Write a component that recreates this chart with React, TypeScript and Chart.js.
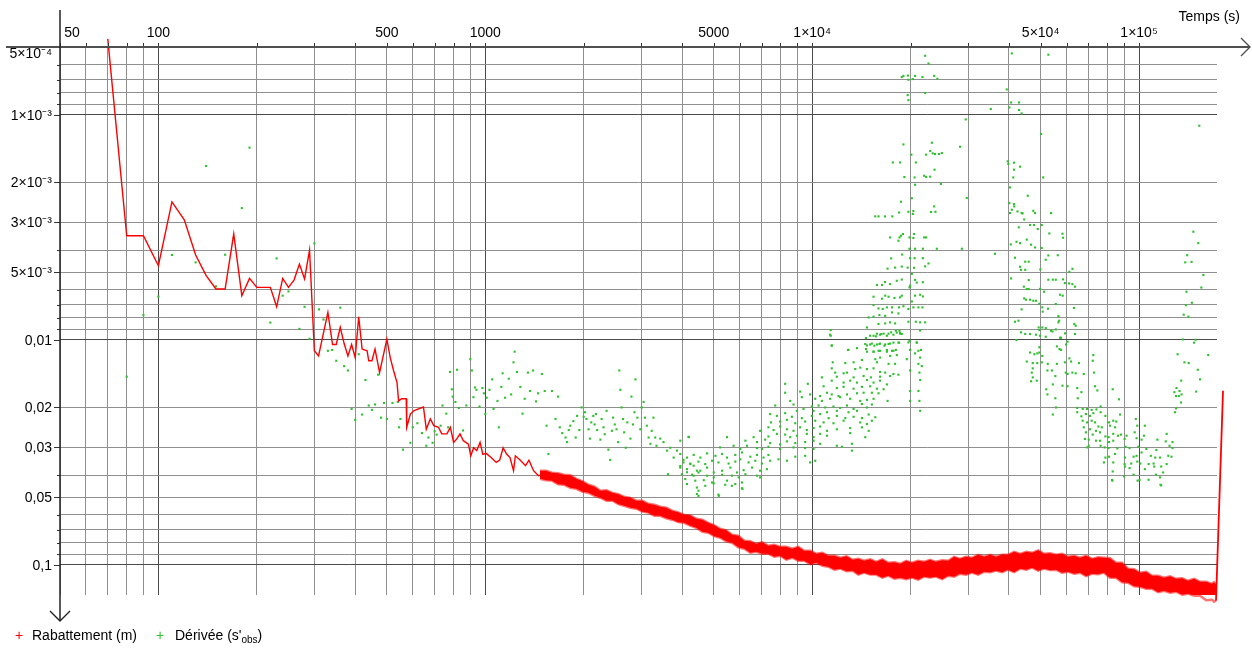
import React, { useEffect, useRef } from 'react';
import { Chart, registerables } from 'chart.js';

Chart.register(...registerables);

const FONT = "'Liberation Sans', Arial, sans-serif";
const RED = '#ff0000';
const GREEN = '#2ec02e';

// Axis ranges
const xMin = 50;
const xMax = 173200;
const yMin = 5e-4;
const yMax = 0.1363;

// Grid lines (log scale)
const xGridValues = [50, 60, 70, 80, 90, 100, 200, 300, 400, 500, 600, 700, 800, 900, 1000, 2000, 3000, 4000, 5000, 6000, 7000, 8000, 9000, 10000, 20000, 30000, 40000, 50000, 60000, 70000, 80000, 90000, 100000];
const yGridValues = [5e-4, 6e-4, 7e-4, 8e-4, 9e-4, 1e-3, 2e-3, 3e-3, 4e-3, 5e-3, 6e-3, 7e-3, 8e-3, 9e-3, 0.01, 0.02, 0.03, 0.04, 0.05, 0.06, 0.07, 0.08, 0.09, 0.1];

// Tick labels
const xTickLabels: [number, string][] = [[50, '50'], [100, '100'], [500, '500'], [1000, '1000'], [5000, '5000'], [10000, '1×10⁴'], [50000, '5×10⁴'], [100000, '1×10⁵']];
const yTickLabels: [number, string][] = [[5e-4, '5×10⁻⁴'], [1e-3, '1×10⁻³'], [2e-3, '2×10⁻³'], [3e-3, '3×10⁻³'], [5e-3, '5×10⁻³'], [0.01, '0,01'], [0.02, '0,02'], [0.03, '0,03'], [0.05, '0,05'], [0.1, '0,1']];

// Rabattement (m): early readable line [t (s), s (m)]
const rabattementEarly: [number, number][] = [
  [70, 4.6e-4], [80, 3.45e-3], [90, 3.45e-3], [100, 4.69e-3], [110, 2.44e-3], [120, 2.93e-3], [130, 4.2e-3], [140, 5.19e-3], [150, 5.95e-3], [160, 5.95e-3],
  [170, 3.39e-3], [180, 6.37e-3], [190, 5.34e-3], [200, 5.85e-3], [220, 5.85e-3], [230, 7.14e-3], [240, 5.34e-3], [250, 5.85e-3], [260, 5.43e-3], [270, 4.61e-3],
  [280, 5.37e-3], [290, 4.0e-3], [300, 0.0112], [309, 0.0118], [330, 7.56e-3], [341, 0.0105], [350, 0.0105], [360, 8.81e-3], [370, 0.0104], [380, 0.0118],
  [390, 0.0105], [400, 0.012], [410, 7.9e-3], [420, 0.011], [435, 0.0112], [440, 0.0124], [450, 0.0124], [460, 0.011], [475, 0.014], [500, 9.93e-3],
  [512, 0.012], [524, 0.0137], [537, 0.0155], [543, 0.0187], [555, 0.0183], [573, 0.0183], [575, 0.0245], [590, 0.0214], [604, 0.0207], [625, 0.0203],
  [647, 0.0199], [660, 0.025], [679, 0.0225], [696, 0.0241], [719, 0.0245], [736, 0.0262], [763, 0.0262], [782, 0.0245], [800, 0.0286], [818, 0.0276],
  [837, 0.0262], [857, 0.0281], [888, 0.0291], [903, 0.0328], [921, 0.0302], [942, 0.0311], [964, 0.0286], [983, 0.0323], [1006, 0.032], [1042, 0.0334],
  [1080, 0.0351], [1107, 0.0343], [1134, 0.0302], [1162, 0.0322], [1190, 0.0334], [1220, 0.0382], [1236, 0.0328], [1280, 0.0343], [1328, 0.0363], [1360, 0.0343],
  [1405, 0.0382], [1455, 0.0402], [1470, 0.040],
];

// Rabattement (m): noisy band, upper and lower edges of the trace
const bandTimes = [
  1470, 1535, 1600, 1670, 1740, 1820, 1900, 1985, 2070, 2160,
  2250, 2350, 2450, 2555, 2660, 2780, 2900, 3025, 3150, 3290,
  3430, 3580, 3730, 3895, 4060, 4240, 4420, 4615, 4810, 5020,
  5230, 5460, 5690, 5945, 6200, 6470, 6740, 7040, 7340, 7660,
  7980, 8335, 8690, 9070, 9450, 9875, 10300, 10750, 11200, 11700,
  12200, 12750, 13300, 13850, 14400, 15050, 15700, 16400, 17100, 17850,
  18600, 19400, 20200, 21100, 22000, 22950, 23900, 25000, 26100, 27200,
  28300, 29550, 30800, 32200, 33600, 35050, 36500, 38100, 39700, 41500,
  43300, 45200, 47100, 49150, 51200, 53450, 55700, 58150, 60600, 63300,
  66000, 68900, 71800, 74950, 78100, 81550, 85000, 88750, 92500, 96600,
  100700, 105150, 109600, 114400, 119200, 124500, 129800, 135500, 141200, 147450,
  153700, 160450, 167200, 169600, 172000,
];
const bandUpper = [
  0.0382, 0.0382, 0.0390, 0.0392, 0.0398, 0.0400, 0.0415, 0.0426, 0.0441, 0.0450,
  0.0469, 0.0467, 0.0479, 0.0486, 0.0499, 0.0504, 0.0519, 0.0519, 0.0536, 0.0541,
  0.0552, 0.0558, 0.0575, 0.0585, 0.0600, 0.0603, 0.0625, 0.0631, 0.0651, 0.0668,
  0.0692, 0.0703, 0.0736, 0.0743, 0.0782, 0.0786, 0.0807, 0.0794, 0.0823, 0.0815,
  0.0832, 0.0832, 0.0849, 0.0832, 0.0867, 0.0867, 0.0894, 0.0885, 0.0912, 0.0912,
  0.0931, 0.0917, 0.0950, 0.0940, 0.0960, 0.0945, 0.0970, 0.0946, 0.0980, 0.0975,
  0.0990, 0.0960, 0.0980, 0.0960, 0.0970, 0.0950, 0.0970, 0.0955, 0.0960, 0.0922,
  0.0941, 0.0922, 0.0931, 0.0903, 0.0921, 0.0902, 0.0921, 0.0903, 0.0903, 0.0876,
  0.0894, 0.0876, 0.0885, 0.0863, 0.0894, 0.0889, 0.0903, 0.0893, 0.0921, 0.0912,
  0.0931, 0.0912, 0.0941, 0.0926, 0.0931, 0.0936, 0.0980, 0.0980, 0.1041, 0.1047,
  0.1085, 0.1074, 0.1119, 0.1119, 0.1142, 0.1125, 0.1154, 0.1148, 0.1178, 0.1154,
  0.119, 0.1190, 0.1215, 0.1196, 0.1227,
];
const bandLower = [
  0.0415, 0.0421, 0.0423, 0.0439, 0.0441, 0.0455, 0.0460, 0.0474, 0.0479, 0.0494,
  0.0504, 0.0520, 0.0519, 0.0538, 0.0547, 0.0558, 0.0564, 0.0581, 0.0587, 0.0606,
  0.0606, 0.0622, 0.0631, 0.0647, 0.0651, 0.0671, 0.0685, 0.0714, 0.0721, 0.0747,
  0.0759, 0.0787, 0.0799, 0.0837, 0.0849, 0.0885, 0.0876, 0.0894, 0.0894, 0.0922,
  0.0912, 0.0950, 0.0931, 0.0960, 0.0960, 0.0995, 0.0980, 0.1011, 0.1021, 0.1052,
  0.1041, 0.1068, 0.1063, 0.1108, 0.1085, 0.1107, 0.1107, 0.1142, 0.1119, 0.1154,
  0.1142, 0.1160, 0.1142, 0.1166, 0.1130, 0.1141, 0.1130, 0.1160, 0.1119, 0.1131,
  0.1096, 0.1108, 0.1085, 0.1108, 0.1074, 0.1080, 0.1063, 0.1080, 0.1052, 0.1080,
  0.1041, 0.1052, 0.1031, 0.1063, 0.1041, 0.1057, 0.1052, 0.1085, 0.1074, 0.1096,
  0.1085, 0.1125, 0.1096, 0.1102, 0.1085, 0.1143, 0.1142, 0.1196, 0.1202, 0.1247,
  0.1253, 0.1279, 0.1279, 0.1326, 0.1305, 0.1332, 0.1318, 0.1359, 0.1345, 0.1373,
  0.1373, 0.1438, 0.1430, 0.1460, 0.1445,
];

// Rabattement (m): final recovery spike
const rabattementEnd: [number, number][] = [[172000, 0.1445], [180700, 0.01685], [182000, 0.0229], [182600, 0.01773], [183900, 0.0241], [184500, 0.01867], [185800, 0.0259]];

// Dérivée (s'obs) [t (s), value]
const derivEarly: [number, number][] = [
  [190, 1.40e-3], [140, 1.69e-3], [180, 2.6e-3], [170, 3.53e-3], [110, 4.2e-3], [130, 4.53e-3], [160, 4.19e-3], [230, 4.35e-3], [300, 3.73e-3], [150, 5.79e-3],
  [240, 6.37e-3], [250, 6.1e-3], [100, 6.43e-3], [280, 7.14e-3], [90, 7.77e-3], [220, 8.39e-3], [270, 8.95e-3], [310, 7.33e-3], [320, 8.13e-3], [360, 7.2e-3],
  [290, 9.9e-3], [80, 0.0146],
  [330, 0.0112], [340, 0.0111], [350, 0.0124], [370, 0.0131], [380, 0.0137], [410, 0.0116], [390, 0.0203], [400, 0.0227], [430, 0.0151], [420, 0.0215],
  [440, 0.0196], [450, 0.0205], [460, 0.0194], [470, 0.0143], [480, 0.0222], [490, 0.0191], [500, 0.0225], [520, 0.0191], [540, 0.0189], [550, 0.0225],
  [545, 0.0245], [560, 0.0308], [590, 0.0287], [600, 0.0245], [620, 0.0235], [640, 0.026], [660, 0.0296], [670, 0.0272], [690, 0.0287], [700, 0.0255],
  [710, 0.0264], [730, 0.0241], [740, 0.0196], [760, 0.0213], [770, 0.0245], [780, 0.0139], [790, 0.0166], [795, 0.0179], [810, 0.0189], [820, 0.0136],
  [830, 0.0201], [855, 0.0253], [875, 0.0196], [900, 0.0122], [910, 0.0137], [920, 0.018], [930, 0.0163], [940, 0.0167], [960, 0.0198], [980, 0.0164],
  [990, 0.0173], [1000, 0.0214], [1010, 0.0181], [1030, 0.0167], [1050, 0.015], [1060, 0.0203], [1090, 0.0187], [1100, 0.0245], [1120, 0.0162], [1130, 0.0141],
  [1150, 0.0181], [1180, 0.0149], [1200, 0.0175], [1220, 0.0126], [1230, 0.0113], [1250, 0.0139], [1280, 0.0162], [1300, 0.0213], [1320, 0.0183], [1350, 0.014],
  [1370, 0.0169], [1400, 0.0137], [1430, 0.0188], [1450, 0.0173], [1490, 0.0142], [1520, 0.0169], [1540, 0.0241], [1560, 0.0322],
];

const derivPlateau: [number, number][] = [
  [1600, 0.0169], [1640, 0.0225], [1670, 0.0179], [1690, 0.0245], [1720, 0.026], [1760, 0.0272], [1780, 0.0285], [1800, 0.0252], [1820, 0.0241], [1860, 0.023],
  [1890, 0.0272], [1910, 0.0218], [1940, 0.0252], [1970, 0.02], [2000, 0.022], [2020, 0.021], [2040, 0.0225], [2070, 0.025], [2090, 0.0275], [2110, 0.0233],
  [2140, 0.0218], [2160, 0.0238], [2180, 0.0214], [2200, 0.0252], [2250, 0.0278], [2270, 0.0225], [2300, 0.0245], [2320, 0.0263], [2350, 0.0207], [2380, 0.0308],
  [2410, 0.0342], [2440, 0.0254], [2460, 0.0222], [2490, 0.0238], [2520, 0.025], [2550, 0.0285], [2570, 0.0137], [2590, 0.0167], [2610, 0.02], [2640, 0.0225],
  [2660, 0.0258], [2690, 0.0302], [2720, 0.0233], [2780, 0.0275], [2800, 0.0179], [2830, 0.0238], [2860, 0.021], [2880, 0.015], [2920, 0.0222], [2980, 0.025],
  [3010, 0.02], [3050, 0.0189], [3080, 0.0222], [3120, 0.0241], [3160, 0.0272], [3200, 0.029], [3230, 0.0254], [3270, 0.0222], [3310, 0.0272], [3340, 0.0296],
  [3430, 0.0275], [3510, 0.0285], [3600, 0.0311], [3680, 0.0302], [3770, 0.0334], [3860, 0.0311], [3950, 0.0364], [4040, 0.0342], [4140, 0.0388], [4190, 0.027],
  [4240, 0.0355], [4340, 0.0402], [4440, 0.0382], [4490, 0.0469],
];

const derivTrough: [number, number][] = [
  [11350, 0.0095], [15410, 0.0096], [15780, 0.0094], [16140, 0.0095], [16540, 0.0094], [17130, 0.0094], [17730, 0.0095], [18150, 0.0093], [18580, 0.0094], [21400, 0.0091],
  [11480, 0.0106], [14710, 0.0106], [15230, 0.0104], [15780, 0.0105], [16140, 0.0104], [16730, 0.0105], [17320, 0.0104], [18360, 0.0103], [19850, 0.0101], [20890, 0.0103],
  [12870, 0.0111], [14610, 0.0110], [15410, 0.0113], [16140, 0.0112], [16930, 0.0111], [17730, 0.0112], [19940, 0.0111], [21140, 0.0112],
  [15600, 0.0122], [16140, 0.0120], [17320, 0.0118], [18150, 0.0117], [15780, 0.0126], [17130, 0.0128], [17940, 0.0128], [19480, 0.0122], [21400, 0.0120], [12630, 0.0127],
  [13390, 0.0126], [14200, 0.0123], [11560, 0.0126], [21140, 0.0128], [21650, 0.0131],
  [11480, 0.0134], [11760, 0.0140], [12480, 0.0141], [12780, 0.0140], [13550, 0.0135], [14030, 0.0133], [14710, 0.0135], [15410, 0.0134], [16140, 0.0139], [16730, 0.0140],
  [17730, 0.0142], [18360, 0.0143], [19940, 0.0137], [21290, 0.0140], [11900, 0.0146], [13390, 0.0147], [14370, 0.0145], [15120, 0.0147], [16140, 0.0146], [17320, 0.0145],
  [10710, 0.0147], [11480, 0.0152], [12480, 0.0155], [13070, 0.0152], [13710, 0.0155], [14710, 0.0151], [15410, 0.0155], [16140, 0.0152], [16930, 0.0158], [21400, 0.0151],
  [8270, 0.0157], [9700, 0.0157], [10840, 0.0161], [11900, 0.0164], [12480, 0.0162], [13390, 0.0165], [14200, 0.0162], [15050, 0.0161], [15780, 0.0165], [16540, 0.0166],
  [8270, 0.0172], [9190, 0.0170], [9860, 0.0175], [10580, 0.0178], [11100, 0.0172], [11480, 0.0175], [12040, 0.0178], [12780, 0.0175], [13710, 0.0173], [14370, 0.0172],
  [15230, 0.0172], [15960, 0.0173], [19940, 0.0169], [21140, 0.0169], [8570, 0.0187], [9300, 0.0180], [10220, 0.0183], [10710, 0.0187], [11350, 0.0183], [12180, 0.0180],
  [13070, 0.0183], [14030, 0.0187], [14710, 0.0185], [15410, 0.0183], [17010, 0.0187], [19940, 0.0187], [21290, 0.0187],
  [7710, 0.0196], [8770, 0.0194], [9410, 0.0203], [9980, 0.0198], [10460, 0.0196], [10970, 0.0200], [11620, 0.0198], [12180, 0.0201], [12780, 0.0196], [13390, 0.0203],
  [14200, 0.0193], [14710, 0.0200], [15230, 0.0194], [21400, 0.0207], [8980, 0.0207], [10100, 0.0207], [11100, 0.0210], [11900, 0.0207], [12920, 0.0210], [13710, 0.0207],
  [7440, 0.0214], [7800, 0.0218], [8270, 0.0212], [8670, 0.0220], [9300, 0.0223], [9980, 0.0218], [10580, 0.0214], [11230, 0.0223], [11900, 0.0218], [12630, 0.0223],
  [13390, 0.0220], [14200, 0.0223], [14890, 0.0215], [15600, 0.0221], [7480, 0.0233], [7980, 0.0231], [8370, 0.0227], [8880, 0.0235], [9520, 0.0231], [10220, 0.0229],
  [10840, 0.0233], [11620, 0.0235], [12480, 0.0229], [14030, 0.0233], [14710, 0.0237], [15230, 0.0229],
  [6930, 0.0254], [7350, 0.0245], [7620, 0.0252], [7980, 0.0243], [8370, 0.0250], [8770, 0.0254], [9190, 0.0245], [9630, 0.0252], [10100, 0.0247], [10580, 0.0243],
  [11100, 0.0254], [11900, 0.0250], [13070, 0.0247], [14200, 0.0245], [14890, 0.0254], [6620, 0.0271], [7350, 0.0269], [7800, 0.0262], [8270, 0.0264], [8570, 0.0271],
  [8980, 0.0267], [9630, 0.0262], [10100, 0.0271], [10580, 0.0262], [11100, 0.0267], [13070, 0.0260], [14540, 0.0271],
  [6250, 0.0281], [6780, 0.0285], [7180, 0.0278], [7440, 0.0288], [7980, 0.0292], [8370, 0.0283], [8880, 0.0288], [9520, 0.0285], [10100, 0.0281], [10580, 0.0290],
  [11900, 0.0296], [12330, 0.0299], [13230, 0.0290], [5490, 0.0271], [4190, 0.0271], [3950, 0.0281], [5230, 0.0301], [5750, 0.0296], [6030, 0.0306], [6320, 0.0296],
  [6780, 0.0303], [7020, 0.0306], [7350, 0.0299], [7980, 0.0306], [8770, 0.0301], [9520, 0.0303], [10100, 0.0306], [13230, 0.0311],
  [3950, 0.0322], [4140, 0.0334], [4340, 0.0325], [4550, 0.0334], [4770, 0.0320], [5060, 0.0328], [5300, 0.0322], [5490, 0.0334], [5820, 0.0325], [6100, 0.0317],
  [6470, 0.0331], [6780, 0.0325], [7100, 0.0334], [7350, 0.0325], [7890, 0.0340], [8370, 0.0345], [8880, 0.0331], [9520, 0.0328], [9860, 0.0351], [10220, 0.0345],
  [4040, 0.0351], [4240, 0.0357], [4490, 0.0348], [4710, 0.0357], [4940, 0.0345], [5170, 0.0351], [5550, 0.0355], [5820, 0.0348], [6030, 0.0340], [6390, 0.0351],
  [6700, 0.0345], [7020, 0.0355], [7440, 0.0345],
  [3950, 0.0370], [4140, 0.0376], [4340, 0.0363], [4550, 0.0382], [4770, 0.0370], [5000, 0.0389], [5300, 0.0382], [5620, 0.0370], [5890, 0.0389], [6170, 0.0380],
  [6550, 0.0370], [6930, 0.0382], [7270, 0.0376], [3995, 0.0396], [4290, 0.0398], [4490, 0.0389], [4770, 0.0402], [5000, 0.0409], [5300, 0.0398], [5680, 0.0402],
  [5960, 0.0409], [6250, 0.0396], [6780, 0.0402], [4090, 0.0416], [4390, 0.0423], [4660, 0.0421], [4940, 0.0431], [5490, 0.0423], [5820, 0.0438], [6100, 0.0431],
  [6930, 0.0409], [4140, 0.0438], [4440, 0.0454], [4710, 0.0446], [5000, 0.0435], [5420, 0.0441], [5680, 0.0446], [6100, 0.0457], [4440, 0.0485], [5170, 0.0488],
  [3620, 0.0396], [4490, 0.0494], [5180, 0.0494], [6120, 0.046],
];

const derivFirstPeak: [number, number][] = [
  [22170, 5.47e-4], [22700, 5.92e-4],
  [18800, 6.8e-4], [19020, 6.72e-4], [19630, 6.7e-4], [19700, 6.99e-4], [20320, 6.94e-4], [20650, 6.72e-4], [21750, 6.8e-4], [23620, 6.72e-4], [24160, 6.92e-4],
  [22170, 8.01e-4], [19600, 8.18e-4], [19700, 8.61e-4],
  [29500, 1.049e-3], [19020, 1.355e-3], [23240, 1.332e-3], [28350, 1.388e-3], [20120, 1.505e-3],
  [22320, 1.505e-3], [22960, 1.45e-3], [23380, 1.485e-3], [23760, 1.495e-3], [24450, 1.495e-3], [24930, 1.48e-3],
  [17650, 1.63e-3], [18580, 1.63e-3], [20760, 1.63e-3], [23680, 1.755e-3], [19150, 1.892e-3], [20580, 1.9e-3], [22010, 1.867e-3], [22320, 1.89e-3], [22960, 1.885e-3],
  [24760, 2.032e-3], [20650, 2.047e-3], [29720, 2.345e-3], [20180, 2.35e-3], [18690, 2.436e-3], [23620, 2.555e-3], [23120, 2.706e-3], [23830, 2.7e-3],
  [15600, 2.83e-3], [15960, 2.83e-3], [16700, 2.83e-3], [17590, 2.83e-3], [18450, 2.72e-3], [19700, 2.7e-3], [20400, 2.68e-3], [20320, 2.76e-3],
  [17320, 3.51e-3], [18500, 3.51e-3], [18690, 3.45e-3], [18960, 3.39e-3], [18360, 3.63e-3], [19850, 3.51e-3], [20400, 3.53e-3], [20500, 3.39e-3], [22010, 3.51e-3], [22320, 3.51e-3],
  [19850, 3.94e-3], [20650, 3.94e-3], [21810, 3.94e-3], [24060, 3.94e-3], [28710, 3.94e-3], [18850, 4.18e-3], [17450, 4.35e-3], [19940, 4.34e-3], [20580, 4.34e-3], [21810, 4.34e-3],
  [22700, 4.58e-3], [17010, 4.83e-3], [17940, 4.78e-3], [18800, 4.73e-3], [19600, 4.78e-3], [20500, 4.79e-3], [22170, 4.72e-3],
  [15780, 5.71e-3], [16360, 5.71e-3], [16700, 5.54e-3], [17320, 5.66e-3], [18150, 5.47e-3], [18800, 5.4e-3], [20180, 5.1e-3], [19940, 5.75e-3], [20650, 5.42e-3], [20890, 5.57e-3],
  [21810, 5.55e-3], [19850, 5.85e-3],
  [15410, 6.44e-3], [16360, 6.57e-3], [16730, 6.37e-3], [17130, 6.44e-3], [17860, 6.52e-3], [18800, 6.37e-3], [18580, 6.48e-3], [20180, 6.76e-3], [20650, 6.37e-3], [21400, 6.31e-3],
  [21810, 6.42e-3],
  [15410, 7.01e-3], [15960, 7.26e-3], [16440, 7.3e-3], [16930, 7.18e-3], [17550, 7.18e-3], [18450, 7.18e-3], [19020, 7.1e-3], [19700, 7.3e-3], [20400, 7.18e-3], [21140, 7.18e-3],
  [21750, 7.18e-3],
  [14890, 7.96e-3], [15410, 7.9e-3], [16060, 7.77e-3], [16730, 7.83e-3], [17550, 7.56e-3], [18360, 7.64e-3],
  [19700, 8.32e-3], [20760, 8.32e-3], [21400, 8.37e-3], [22170, 8.37e-3],
  [14710, 8.82e-3], [15960, 8.51e-3], [16730, 8.46e-3], [17320, 8.37e-3], [17940, 8.46e-3], [18500, 9.12e-3], [18800, 9.43e-3],
  [11400, 9.06e-3], [11400, 9.6e-3],
  [14610, 9.83e-3], [15050, 9.6e-3], [15690, 9.66e-3], [16270, 9.43e-3], [16930, 9.6e-3], [17450, 9.27e-3], [18030, 9.12e-3], [18580, 9.31e-3],
  [19700, 0.01028], [20890, 0.01028], [11480, 0.01063], [12920, 0.0111], [13710, 0.0109],
  [14540, 0.01045], [15050, 0.0105], [15500, 0.01063], [16060, 0.01045], [16640, 0.01063], [17130, 0.01045], [17730, 0.0103], [18450, 0.0103],
  [19940, 0.0111], [20650, 0.0115], [21530, 0.0111],
  [14710, 0.0113], [15410, 0.0113], [15960, 0.0112], [16930, 0.0113], [17550, 0.0112], [18030, 0.0111],
];

const derivSecondPeak: [number, number][] = [
  [40810, 5.34e-4], [52800, 5.41e-4], [39380, 7.72e-4], [40610, 8.82e-4], [42960, 8.82e-4], [35200, 9.43e-4], [40120, 9.28e-4], [42960, 9.53e-4], [43720, 9.87e-4], [152900, 1.119e-3],
  [50150, 1.218e-3],
  [39660, 1.611e-3], [39830, 1.654e-3], [41440, 1.634e-3], [41440, 1.755e-3], [43270, 1.701e-3], [41240, 1.9e-3], [50920, 1.9e-3], [40320, 2.104e-3], [45670, 2.291e-3],
  [40120, 2.469e-3], [41440, 2.495e-3], [41530, 2.556e-3], [40810, 2.644e-3], [40320, 2.735e-3], [42480, 2.69e-3], [43720, 2.735e-3], [44040, 2.745e-3], [47490, 2.673e-3], [48060, 2.735e-3],
  [53820, 2.735e-3], [44540, 2.92e-3],
  [46420, 3.092e-3], [47730, 3.092e-3], [50400, 3.092e-3], [49000, 3.22e-3], [42870, 3.165e-3], [53170, 3.37e-3], [58330, 3.38e-3], [58580, 3.52e-3], [146600, 3.311e-3],
  [40520, 3.77e-3], [42180, 3.67e-3], [43260, 3.72e-3], [45350, 3.59e-3], [46750, 3.78e-3], [48100, 3.89e-3], [50400, 3.91e-3], [151800, 3.72e-3],
  [36240, 4.15e-3], [41730, 4.32e-3], [44860, 4.5e-3], [45970, 4.5e-3], [51830, 4.41e-3], [52790, 4.22e-3], [56420, 4.21e-3], [140400, 4.21e-3], [138500, 4.53e-3], [144800, 4.51e-3],
  [43260, 4.74e-3], [43560, 4.89e-3], [44860, 4.89e-3], [49900, 4.87e-3], [61220, 4.99e-3], [62550, 4.84e-3], [157300, 5.16e-3],
  [40610, 5.34e-3], [45990, 5.43e-3], [52800, 5.41e-3], [54480, 5.41e-3], [55630, 5.41e-3], [58580, 5.39e-3], [59300, 5.6e-3], [61100, 5.62e-3], [62530, 5.66e-3], [63680, 5.81e-3],
  [44420, 5.81e-3], [45350, 5.95e-3], [45940, 5.95e-3], [49800, 5.94e-3], [51230, 6.12e-3], [57340, 6.31e-3], [58430, 6.37e-3], [139700, 6.12e-3], [155100, 5.86e-3],
  [44540, 6.55e-3], [45110, 6.64e-3], [46420, 6.64e-3], [47490, 6.71e-3], [48390, 6.71e-3], [49540, 6.92e-3], [55630, 6.94e-3], [145100, 6.85e-3], [139100, 7.02e-3],
  [43720, 7.33e-3], [50600, 7.18e-3], [52690, 7.28e-3], [50730, 7.5e-3], [137000, 7.74e-3], [141600, 7.9e-3], [56680, 7.85e-3], [63220, 7.22e-3],
  [56960, 8.23e-3], [56680, 8.37e-3], [41730, 8.32e-3], [42790, 8.23e-3], [63400, 8.51e-3], [64000, 8.67e-3],
  [49310, 8.82e-3], [50600, 8.82e-3], [51830, 8.88e-3], [49540, 9.06e-3], [53790, 9.12e-3], [54380, 9.19e-3], [55630, 9.0e-3],
  [43560, 9.27e-3], [44860, 9.43e-3], [46420, 9.43e-3], [48390, 9.5e-3], [49800, 9.6e-3], [51830, 9.7e-3], [57340, 9.8e-3], [57750, 9.8e-3], [59400, 9.37e-3], [63680, 9.43e-3],
  [42180, 0.01003], [136100, 0.00997], [149000, 0.0100], [147300, 0.0103], [60460, 0.0102], [59820, 0.0105], [49540, 0.0108], [56070, 0.0107], [57110, 0.0110], [57750, 0.0111],
  [46420, 0.0114], [47850, 0.0116], [48830, 0.0115], [49540, 0.0114], [50600, 0.0118], [61220, 0.0121], [61970, 0.0125], [72480, 0.0117], [72180, 0.0124], [131200, 0.0116],
  [137700, 0.0126], [141900, 0.0127], [162800, 0.0117],
  [45350, 0.0125], [47300, 0.0127], [48830, 0.0127], [50400, 0.0126], [52580, 0.0128], [56070, 0.0128], [59300, 0.0126], [65470, 0.0127],
  [47300, 0.0134], [46980, 0.0140], [52450, 0.0137], [54140, 0.0137], [55470, 0.0145], [59700, 0.0140], [60460, 0.0142], [62530, 0.0140], [64000, 0.0141], [67750, 0.0142],
  [72840, 0.0140], [151300, 0.0136], [134600, 0.0152], [153700, 0.0150],
  [47300, 0.0147], [46750, 0.0153], [48650, 0.0152], [54480, 0.0158], [58330, 0.0160], [60460, 0.0161], [64710, 0.0164], [66640, 0.0171], [73360, 0.0161], [74560, 0.0168],
  [83070, 0.0166],
  [130200, 0.0164], [128300, 0.0171], [133000, 0.0169], [134900, 0.0175], [132400, 0.0178], [129800, 0.0178], [149600, 0.0170], [52030, 0.0166], [52450, 0.0175],
  [55470, 0.0182], [64970, 0.0182], [86790, 0.0184], [134400, 0.0190], [55750, 0.0200],
  [64710, 0.0201], [67230, 0.0203], [69290, 0.0203], [71640, 0.0205], [74090, 0.0204], [76300, 0.0198], [129800, 0.0202], [128900, 0.0210], [54480, 0.0215],
  [64710, 0.0210], [66640, 0.0219], [68790, 0.0214], [70830, 0.0218], [72480, 0.0212], [76300, 0.0210], [78900, 0.0218], [87480, 0.0215],
  [67230, 0.0229], [69290, 0.0233], [71640, 0.0229], [73360, 0.0233], [80970, 0.0233], [83400, 0.0229], [85200, 0.0231], [97740, 0.0225],
  [67750, 0.0245], [70830, 0.0250], [73850, 0.0254], [75120, 0.0243], [76900, 0.0245], [81530, 0.0241], [84490, 0.0245], [98770, 0.0241], [104200, 0.0241],
  [68790, 0.0258], [72180, 0.0264], [75990, 0.0258], [78900, 0.0269], [80720, 0.0271], [83400, 0.0262], [86200, 0.0267], [88030, 0.0264], [91620, 0.0267], [97000, 0.0258],
  [103500, 0.0267], [121500, 0.0262],
  [68290, 0.0276], [70180, 0.0278], [73850, 0.0281], [75990, 0.0281], [80970, 0.0285], [83400, 0.0281], [90320, 0.0276], [98280, 0.0274], [101800, 0.0278], [113800, 0.0278],
  [120700, 0.0283], [126600, 0.0285],
  [70180, 0.0296], [69480, 0.0301], [76300, 0.0296], [78470, 0.0301], [80720, 0.0303], [85850, 0.0304], [90960, 0.0299], [93570, 0.0303], [99450, 0.0299], [105300, 0.0306],
  [113000, 0.0309], [124000, 0.0296], [126600, 0.0303],
  [78900, 0.0334], [80970, 0.0331], [84490, 0.0322], [90640, 0.0334], [96290, 0.0331], [98280, 0.0328], [101800, 0.0317], [108700, 0.0328], [112100, 0.0334], [115900, 0.0334],
  [122900, 0.0328], [125700, 0.0331],
  [78090, 0.0351], [83400, 0.0351], [90320, 0.0357], [94690, 0.0355], [98770, 0.0348], [101000, 0.0355], [107000, 0.0357], [110800, 0.0355], [121500, 0.0357],
  [83070, 0.0385], [90640, 0.0366], [93570, 0.0372], [104200, 0.0376], [111300, 0.0366], [116900, 0.0366], [118500, 0.0389],
  [82710, 0.0420], [90030, 0.0405], [96290, 0.0398], [100400, 0.0420], [107000, 0.0419], [112600, 0.0398], [115900, 0.0409], [116900, 0.0444],
  [82890, 0.0423], [99000, 0.0423], [116300, 0.0441],
];

const isDecade = (v: number) => Math.abs(Math.log10(v) - Math.round(Math.log10(v))) < 1e-6;
const hasLabel = (list: [number, string][], v: number) => list.some(([k]) => Math.abs(k - v) / v < 1e-6);

const decorPlugin = {
  id: 'decor',
  afterDraw(chart: any) {
    const { ctx, chartArea, scales } = chart;
    const xs = scales.x;
    const ys = scales.y;
    const left = chartArea.left;
    const top = chartArea.top;
    ctx.save();
    // tick marks
    ctx.strokeStyle = '#333';
    ctx.lineWidth = 1;
    ctx.beginPath();
    for (const v of xGridValues) {
      const px = Math.round(xs.getPixelForValue(v)) + 0.5;
      ctx.moveTo(px, top - 4);
      ctx.lineTo(px, top);
    }
    for (const v of yGridValues) {
      const py = Math.round(ys.getPixelForValue(v)) + 0.5;
      const len = hasLabel(yTickLabels, v) ? 6 : 3;
      ctx.moveTo(left - len, py);
      ctx.lineTo(left, py);
    }
    ctx.stroke();
    // x axis (top) with arrow
    ctx.strokeStyle = '#505050';
    ctx.lineWidth = 2;
    ctx.beginPath();
    ctx.moveTo(6, top);
    ctx.lineTo(1250, top);
    ctx.stroke();
    ctx.lineWidth = 1.4;
    ctx.beginPath();
    ctx.moveTo(1241, top - 9);
    ctx.lineTo(1250, top);
    ctx.lineTo(1241, top + 9);
    ctx.stroke();
    // y axis (left) with arrow
    ctx.strokeStyle = '#222';
    ctx.lineWidth = 1.5;
    ctx.beginPath();
    ctx.moveTo(left, 10);
    ctx.lineTo(left, 621);
    ctx.stroke();
    ctx.lineWidth = 1.4;
    ctx.beginPath();
    ctx.moveTo(left - 10, 611);
    ctx.lineTo(left, 621);
    ctx.lineTo(left + 10, 611);
    ctx.stroke();
    // labels
    ctx.fillStyle = '#000';
    ctx.font = `14px ${FONT}`;
    ctx.textBaseline = 'alphabetic';
    ctx.textAlign = 'center';
    for (const [v, lab] of xTickLabels) {
      let px = xs.getPixelForValue(v);
      if (v === xMin) px += 12;
      ctx.fillText(lab, px, top - 10);
    }
    ctx.textAlign = 'right';
    for (const [v, lab] of yTickLabels) {
      const py = ys.getPixelForValue(v);
      const dy = v === yMin ? 11 : 5;
      ctx.fillText(lab, left - 8, py + dy);
    }
    ctx.fillText('Temps (s)', 1240, 21);
    ctx.restore();
  },
};

const toXY = (pairs: [number, number][]) => pairs.map(([x, y]) => ({ x, y }));

export default function App() {
  const ref = useRef<HTMLCanvasElement | null>(null);

  useEffect(() => {
    if (!ref.current) return;
    const greenSet = (label: string, pairs: [number, number][]) => ({
      label,
      data: toXY(pairs),
      showLine: false,
      pointStyle: 'rect',
      pointRadius: 1.5,
      pointBorderWidth: 0,
      pointBackgroundColor: GREEN,
      borderColor: GREEN,
      backgroundColor: GREEN,
      order: 1,
    });
    const gridColor = (c: any) => (c.tick && isDecade(c.tick.value) ? '#4a4a4a' : '#8f8f8f');
    const edge = 'rgba(255,0,0,0.55)';
    const chart = new Chart(ref.current, {
      type: 'line',
      data: {
        datasets: [
          {
            label: 'band-upper',
            data: bandTimes.map((t, i) => ({ x: t, y: bandUpper[i] })),
            borderColor: edge,
            borderWidth: 2.4,
            pointRadius: 0,
            fill: false,
            clip: false,
            order: 0,
          },
          {
            label: 'band-lower',
            data: bandTimes.map((t, i) => ({ x: t, y: bandLower[i] })),
            borderColor: edge,
            backgroundColor: RED,
            borderWidth: 2.4,
            pointRadius: 0,
            fill: '-1',
            clip: false,
            order: 0,
          },
          {
            label: 'Rabattement (m)',
            data: toXY(rabattementEarly),
            borderColor: RED,
            borderWidth: 1.4,
            pointRadius: 0,
            fill: false,
            clip: false,
            order: 0,
          },
          {
            label: 'Rabattement fin',
            data: toXY(rabattementEnd),
            borderColor: RED,
            borderWidth: 1.8,
            pointRadius: 0,
            fill: false,
            clip: false,
            order: 0,
          },
          greenSet('Dérivée 1', derivEarly),
          greenSet('Dérivée 2', derivPlateau),
          greenSet('Dérivée 3', derivTrough),
          greenSet('Dérivée 4', derivFirstPeak),
          greenSet('Dérivée 5', derivSecondPeak),
        ] as any,
      },
      options: {
        animation: false,
        responsive: false,
        devicePixelRatio: 1,
        events: [],
        layout: { padding: { left: 0, top: 0, right: 35, bottom: 53 } },
        plugins: { legend: { display: false }, tooltip: { enabled: false } },
        scales: {
          x: {
            type: 'logarithmic',
            position: 'top',
            min: xMin,
            max: xMax,
            afterBuildTicks: (s: any) => { s.ticks = xGridValues.map((v) => ({ value: v })); },
            afterFit: (s: any) => { s.height = 47; },
            ticks: { display: false },
            grid: { color: gridColor, lineWidth: 1, drawTicks: false },
            border: { display: false },
          },
          y: {
            type: 'logarithmic',
            position: 'left',
            reverse: true,
            min: yMin,
            max: yMax,
            afterBuildTicks: (s: any) => { s.ticks = yGridValues.map((v) => ({ value: v })); },
            afterFit: (s: any) => { s.width = 60; },
            ticks: { display: false },
            grid: { color: gridColor, lineWidth: 1, drawTicks: false },
            border: { display: false },
          },
        },
      } as any,
      plugins: [decorPlugin],
    });
    return () => chart.destroy();
  }, []);

  const legendText = { position: 'absolute' as const, top: 627, font: `14px ${FONT}`, lineHeight: '16px', whiteSpace: 'nowrap' as const, color: '#000' };

  return (
    <div style={{ position: 'absolute', left: 0, top: 0, width: 1252, height: 648, background: '#fff' }}>
      <canvas ref={ref} width={1252} height={648} style={{ display: 'block', width: 1252, height: 648 }} />
      <span style={{ ...legendText, left: 15, color: RED }}>+</span>
      <span style={{ ...legendText, left: 32 }}>Rabattement (m)</span>
      <span style={{ ...legendText, left: 156, color: GREEN }}>+</span>
      <span style={{ ...legendText, left: 175 }}>
        Dérivée (s'<sub style={{ fontSize: '10px', verticalAlign: '-3px', lineHeight: 0 }}>obs</sub>)
      </span>
    </div>
  );
}
